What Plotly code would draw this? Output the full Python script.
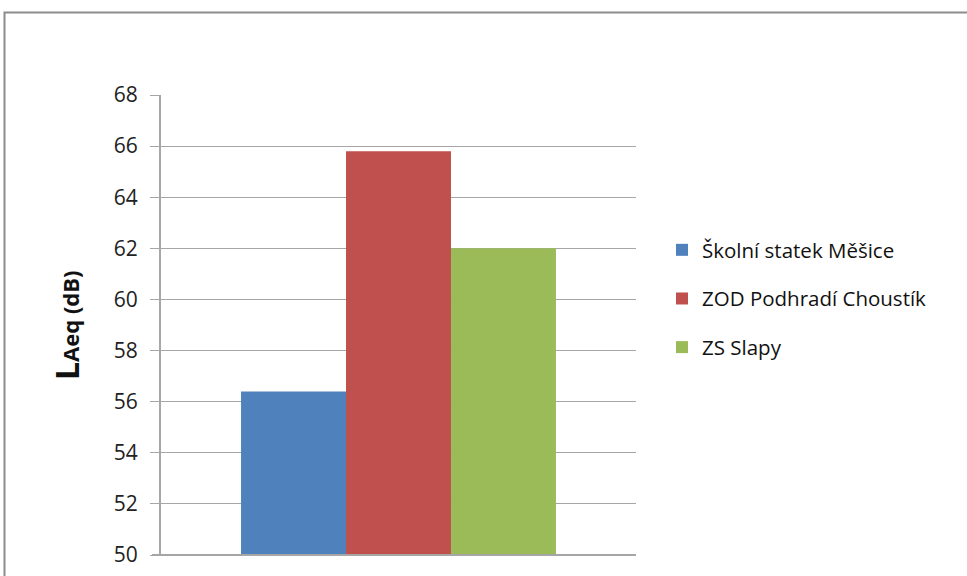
import plotly.graph_objects as go

series = ["Školní statek Měšice", "ZOD Podhradí Choustík", "ZS Slapy"]
values = [56.4, 65.8, 62.0]
colors = ["#4F81BD", "#C0504D", "#9BBB59"]
category = [""]
y_ticks = [50, 52, 54, 56, 58, 60, 62, 64, 66, 68]

L, R, T, B = 161, 636, 95, 555
W, H = 967, 576

fig = go.Figure()
for name, v, c in zip(series, values, colors):
    fig.add_trace(go.Bar(x=category, y=[v], name=name, marker=dict(color=c, line=dict(width=0)),
                         legendgroup=name))

def px_x(p):
    return (p - L) / (R - L)

def px_y(p):
    return (B - p) / (B - T)

fig.update_layout(
    width=W, height=H,
    margin=dict(l=L, r=W - R, t=T, b=H - B, autoexpand=False),
    paper_bgcolor="white", plot_bgcolor="white",
    barmode="group", bargap=0.337, bargroupgap=0,
    font=dict(family="Open Sans, Liberation Sans, sans-serif", size=17, color="#222"),
    showlegend=True,
    legend=dict(x=px_x(662), y=px_y(230), xanchor="left", yanchor="top",
                font=dict(size=20.5, color="#111"), tracegroupgap=19,
                itemwidth=30, bgcolor="rgba(0,0,0,0)"),
    xaxis=dict(showticklabels=False, showgrid=False, zeroline=False,
               showline=False, ticks="", automargin=False),
    yaxis=dict(range=[50, 68], tickvals=y_ticks, showgrid=True, gridcolor="#A6A6A6",
               gridwidth=1, zeroline=False, showline=True, linecolor="#A6A6A6", linewidth=2,
               ticks="outside", ticklen=9, tickcolor="#A6A6A6", tickwidth=1,
               tickfont=dict(size=21, color="#222"), ticklabelstandoff=8, automargin=False),
    shapes=[dict(type="rect", xref="paper", yref="paper",
                 x0=px_x(4.5), x1=px_x(1000), y0=px_y(620), y1=px_y(12.5),
                 line=dict(color="#8C8C8C", width=2), fillcolor="rgba(0,0,0,0)", layer="below"),
            dict(type="line", xref="paper", yref="paper", x0=px_x(152), x1=1, y0=0, y1=0,
                 line=dict(color="#A6A6A6", width=2))],
    annotations=[dict(xref="paper", yref="paper", x=px_x(66), y=0.5, xanchor="center", yanchor="middle",
                      textangle=-90, showarrow=False,
                      text="<b><span style='font-size:32px'>L</span><span style='font-size:22px'>Aeq (dB)</span></b>",
                      font=dict(family="Open Sans, Liberation Sans, sans-serif", color="#111"))],
)

fig.write_html("out.html")
